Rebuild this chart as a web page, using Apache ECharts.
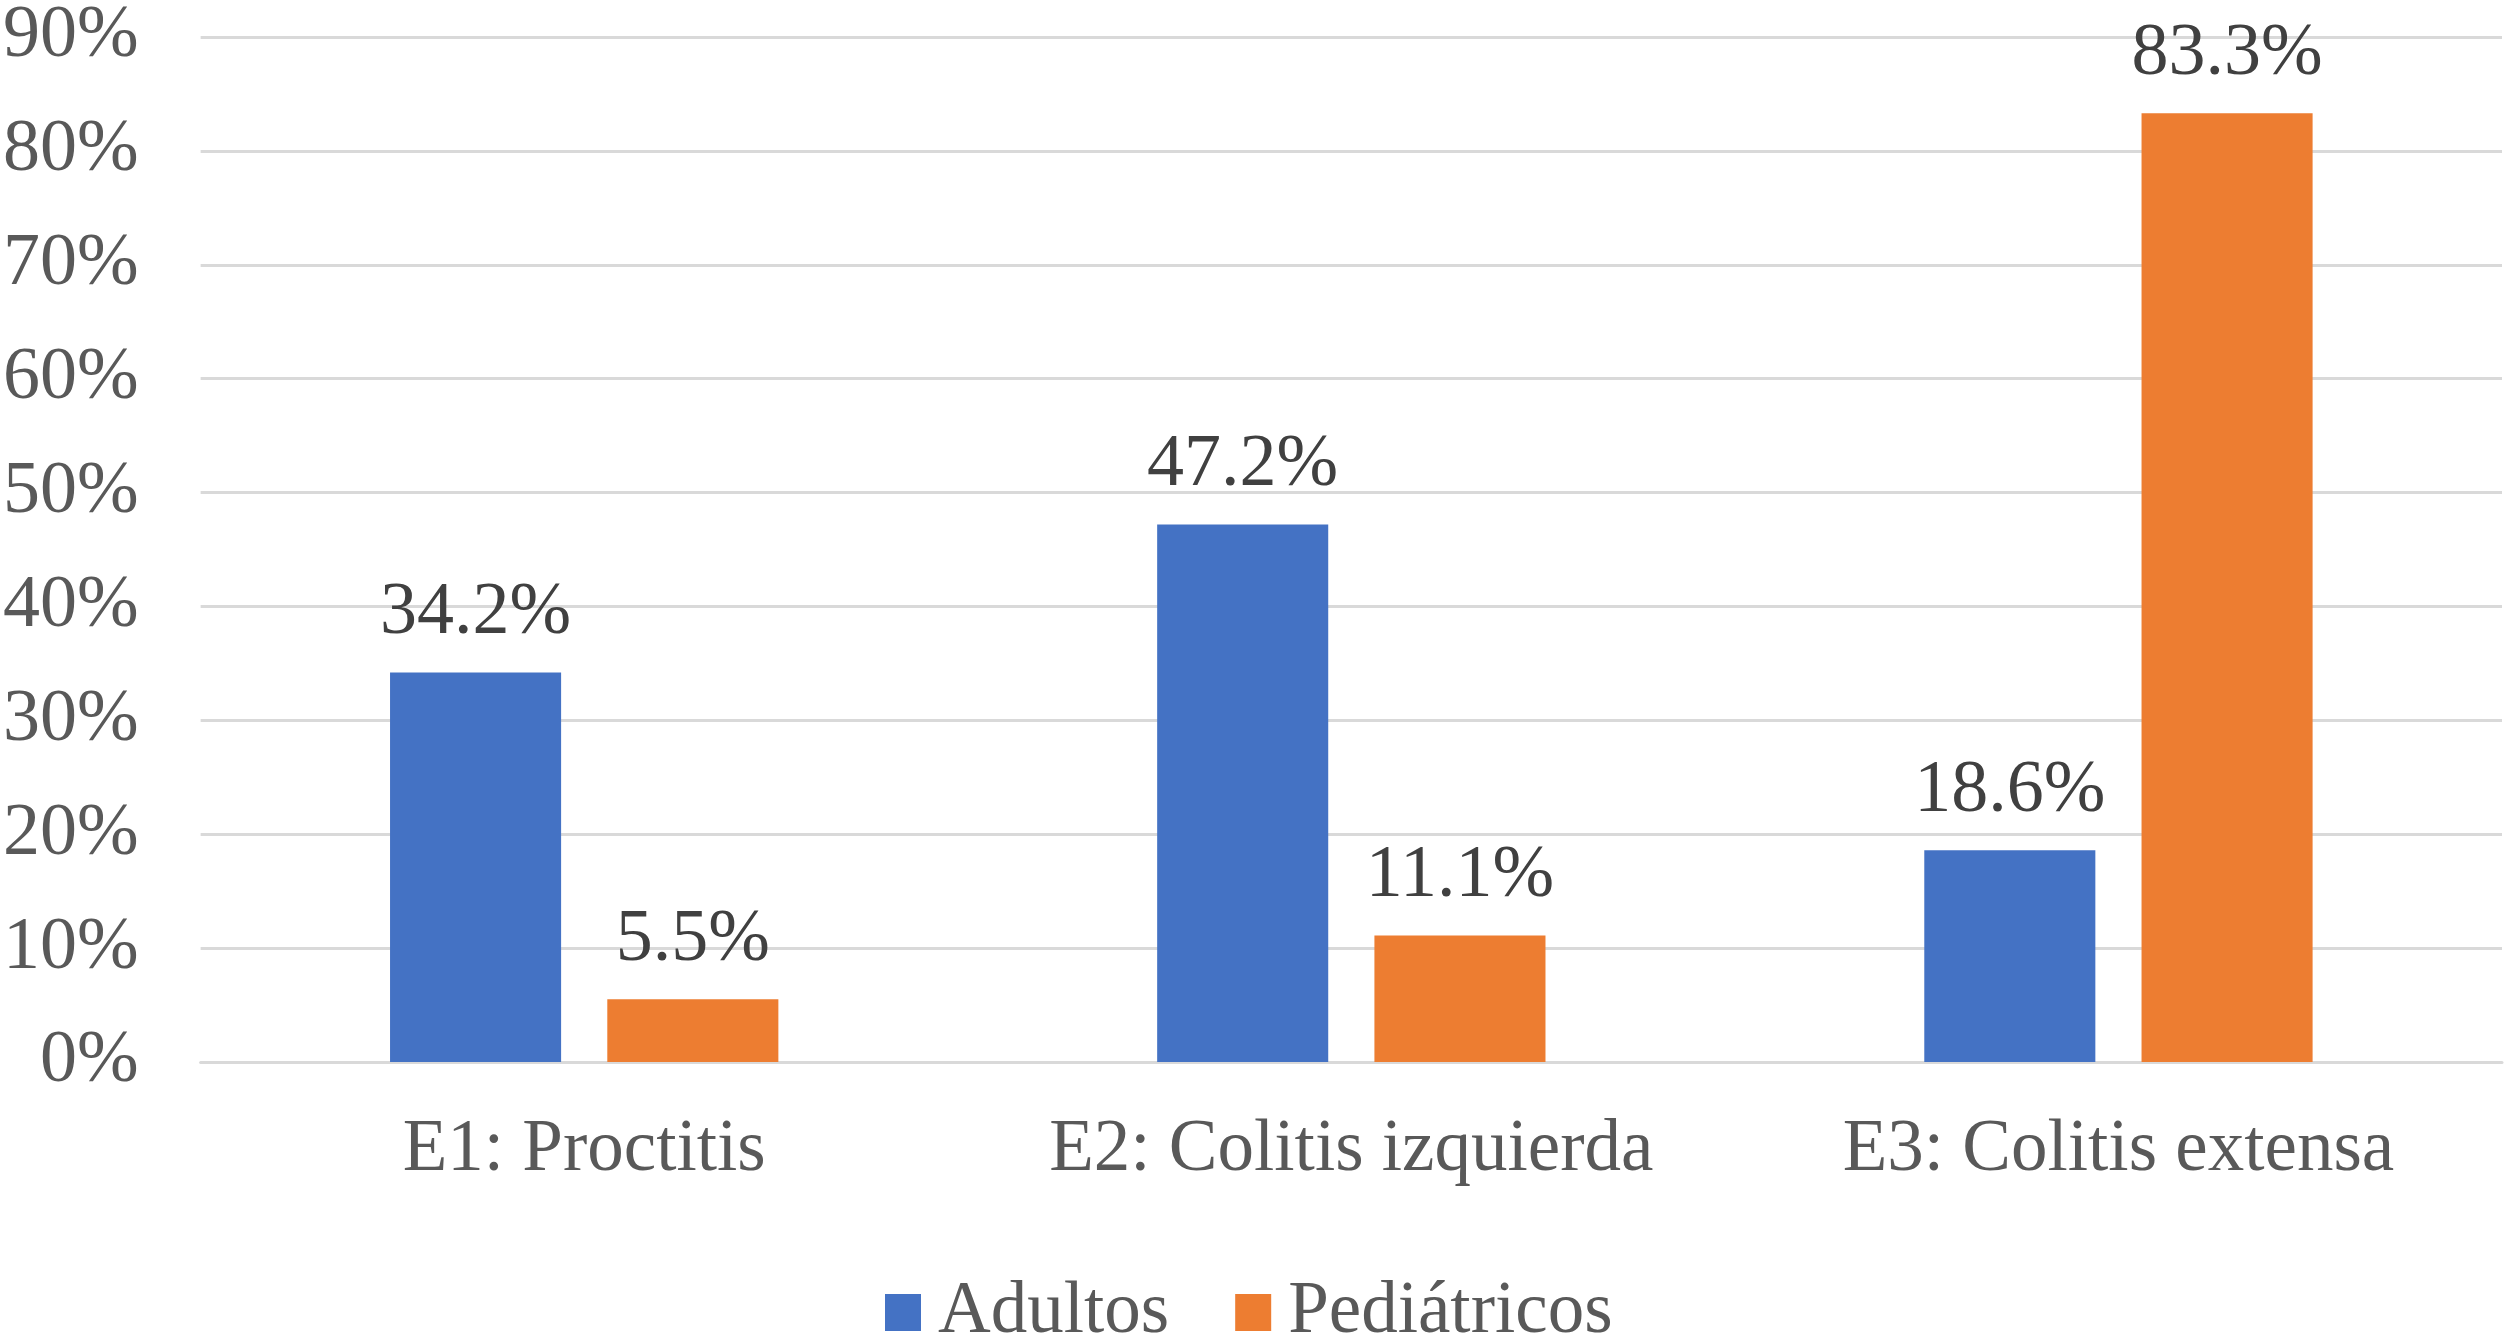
<!DOCTYPE html>
<html>
<head>
<meta charset="utf-8">
<script src="https://cdn.jsdelivr.net/npm/echarts@6/dist/echarts.min.js"></script>
<style>
html,body{margin:0;padding:0;background:#fff;}
#chart{width:2508px;height:1336px;}
</style>
</head>
<body>
<div id="chart"></div>
<script>
const categories = ["E1: Proctitis", "E2: Colitis izquierda", "E3: Colitis extensa"];
const seriesNames = ["Adultos", "Pediátricos"];
const adultos = [34.2, 47.2, 18.6];
const pediatricos = [5.5, 11.1, 83.3];
const yTicks = { min: 0, max: 90, interval: 10 };

const FONT = "'Liberation Serif', 'Times New Roman', serif";
const chart = echarts.init(document.getElementById('chart'));
const labelCfg = {
  show: true,
  position: 'top',
  distance: 22,
  color: '#404040',
  fontFamily: FONT,
  fontSize: 74,
  formatter: p => p.value.toFixed(1) + '%'
};
chart.setOption({
  animation: false,
  backgroundColor: '#ffffff',
  grid: { left: 198, right: 6, top: 29, bottom: 274, containLabel: false },
  legend: {
    data: seriesNames,
    left: 880,
    top: 1271,
    itemWidth: 36,
    itemHeight: 37,
    itemGap: 66,
    icon: 'rect',
    textStyle: { color: '#595959', fontFamily: FONT, fontSize: 73, padding: [0, 0, 0, 12] }
  },
  xAxis: {
    type: 'category',
    data: categories,
    axisLine: { show: true, lineStyle: { color: '#D9D9D9', width: 3 } },
    axisTick: { show: false },
    axisLabel: { interval: 0, color: '#595959', fontFamily: FONT, fontSize: 73, margin: 52 }
  },
  yAxis: {
    type: 'value',
    min: yTicks.min,
    max: yTicks.max,
    interval: yTicks.interval,
    axisLine: { show: false },
    axisTick: { show: false },
    splitLine: { lineStyle: { color: '#D9D9D9', width: 3 } },
    axisLabel: { color: '#595959', fontFamily: FONT, fontSize: 74, margin: 62, formatter: '{value}%' }
  },
  series: [
    { name: seriesNames[0], type: 'bar', data: adultos, barWidth: '22.3%', barGap: '27%',
      itemStyle: { color: '#4472C4' }, label: labelCfg },
    { name: seriesNames[1], type: 'bar', data: pediatricos, barWidth: '22.3%', barGap: '27%',
      itemStyle: { color: '#ED7D31' }, label: labelCfg }
  ]
});
</script>
</body>
</html>
